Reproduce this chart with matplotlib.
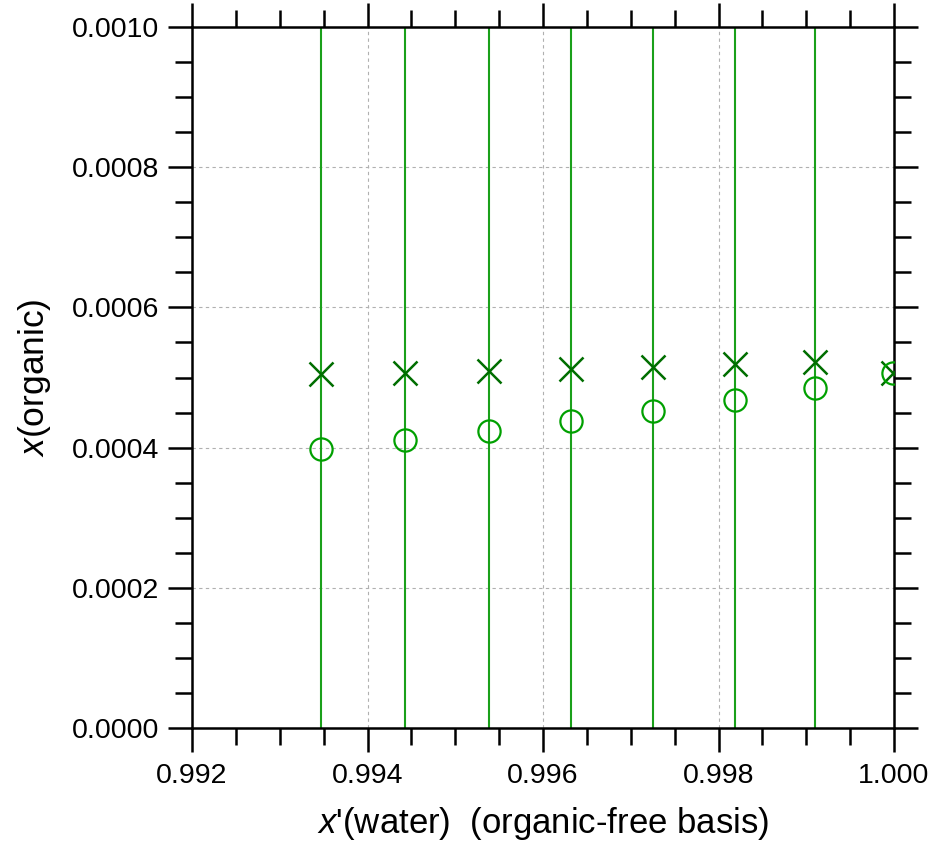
import matplotlib
matplotlib.use("Agg")
import matplotlib.pyplot as plt
from matplotlib.ticker import MultipleLocator, FormatStrFormatter

plt.rcParams['font.family'] = ['Liberation Sans', 'DejaVu Sans']
plt.rcParams['mathtext.fontset'] = 'custom'
plt.rcParams['mathtext.rm'] = 'Liberation Sans'
plt.rcParams['mathtext.it'] = 'Liberation Sans:italic'

x_water = [0.99347, 0.99443, 0.99538, 0.99632, 0.99725, 0.99819, 0.99910, 0.99999]
x_cross = [0.0005046, 0.0005060, 0.0005093, 0.0005117, 0.0005154, 0.0005188, 0.0005217, 0.0005060]
x_circle = [0.0003976, 0.0004108, 0.0004237, 0.0004375, 0.0004522, 0.0004679, 0.0004854, 0.0005060]

fig = plt.figure(figsize=(9.37, 8.48), dpi=100)
ax = fig.add_axes([192/937, 1-728/848, (894-192)/937, (728-27)/848])

for xv in x_water[:-1]:
    ax.axvline(xv, color='#1aa01a', lw=1.5, zorder=2)

ax.plot(x_water, x_cross, linestyle='none', marker='x', ms=17.5, mew=1.8,
        color='#006e00', zorder=3)
ax.plot(x_water, x_circle, linestyle='none', marker='o', ms=16, mew=1.6,
        mfc='none', mec='#00a000', zorder=3)

ax.set_xlim(0.992, 1.000)
ax.set_ylim(0.0, 0.0010)
ax.xaxis.set_major_locator(MultipleLocator(0.002))
ax.xaxis.set_minor_locator(MultipleLocator(0.0005))
ax.yaxis.set_major_locator(MultipleLocator(0.0002))
ax.yaxis.set_minor_locator(MultipleLocator(0.00005))
ax.xaxis.set_major_formatter(FormatStrFormatter('%.3f'))
ax.yaxis.set_major_formatter(FormatStrFormatter('%.4f'))

ax.grid(True, which='major', color='#b0b0b0', linestyle=(0, (3, 3)), lw=0.8, zorder=0)
ax.set_axisbelow(True)

ax.tick_params(which='both', direction='out', top=True, right=True,
               labeltop=False, labelright=False, width=1.8, labelsize=20.5)
ax.tick_params(axis='y', which='major', pad=6.5)
ax.tick_params(axis='x', which='major', pad=8)
ax.tick_params(which='major', length=17)
ax.tick_params(which='minor', length=12)
for s in ax.spines.values():
    s.set_linewidth(1.8)

ax.set_xlabel("$x$'(water)  (organic-free basis)", fontsize=25, labelpad=12)
ax.set_ylabel("$x$(organic)", fontsize=25.5, labelpad=14)

fig.savefig('out.png', dpi=100)
